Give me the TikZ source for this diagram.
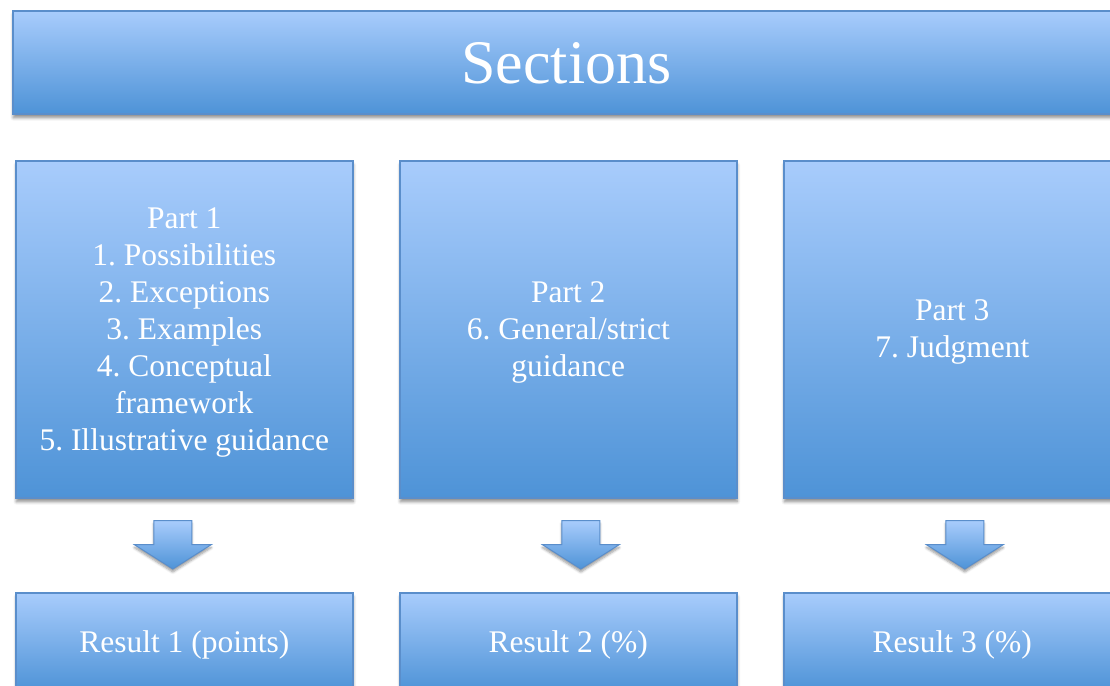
\documentclass[tikz,border=0pt]{standalone}
\usepackage{fontspec}
\setmainfont{Liberation Serif}
\usetikzlibrary{shadows.blur,calc}
\definecolor{boxtop}{HTML}{A8CCFC}
\definecolor{boxbot}{HTML}{4E93D7}
\definecolor{boxedge}{HTML}{5A8ECB}
\frenchspacing
\begin{document}
\begin{tikzpicture}[x=1pt,y=-1pt,
  panel/.style={rectangle, draw=boxedge, line width=1.6pt,
    top color=boxtop, bottom color=boxbot, inner sep=0pt, anchor=north west,
    blur shadow={shadow xshift=0.5pt, shadow yshift=-4pt,
      shadow blur radius=3pt, shadow blur steps=6, shadow opacity=45}},
  partbox/.style={panel, minimum width=337pt, minimum height=337pt},
  resultbox/.style={panel, minimum width=337pt, minimum height=98pt},
  boxtext/.style={text=white, align=center, inner sep=0pt,
    font=\fontsize{31.5}{37}\selectfont},
  blockarrow/.style={draw=boxedge, line width=1pt, line join=miter,
    top color=boxtop, bottom color=boxbot,
    blur shadow={shadow xshift=0pt, shadow yshift=-3pt,
      shadow blur radius=2.5pt, shadow blur steps=5, shadow opacity=40}}
]
\useasboundingbox (0,0) rectangle (1110,685);
\clip (0,0) rectangle (1110,685);

% header
\node[panel, minimum width=1107pt, minimum height=103pt] (head) at (12,10) {};
\node[boxtext, font=\fontsize{62}{70}\selectfont] (headtext)
  at ([yshift=-1pt]head.center) {Sections};

% the three parts
\node[partbox] (p1) at (15,160) {};
\node[partbox] (p2) at (399,160) {};
\node[partbox] (p3) at (783,160) {};
\node[boxtext] (p1text) at ([yshift=-3pt]p1.center)
  {Part 1\\1. Possibilities\\2. Exceptions\\3. Examples\\4. Conceptual\\framework\\5. Illustrative guidance};
\node[boxtext] (p2text) at ([yshift=-3pt]p2.center) {Part 2\\6. General/strict\\guidance};
\node[boxtext] (p3text) at ([yshift=-3pt]p3.center) {Part 3\\7. Judgment};

% results
\node[resultbox] (r1) at (15,592) {};
\node[resultbox] (r2) at (399,592) {};
\node[resultbox] (r3) at (783,592) {};
\node[boxtext] (r1text) at ([yshift=-3pt]r1.center) {Result 1 (points)};
\node[boxtext] (r2text) at ([yshift=-3pt]r2.center) {Result 2 (\%)};
\node[boxtext] (r3text) at ([yshift=-3pt]r3.center) {Result 3 (\%)};

% block arrows from each part down to its result
\foreach \i/\dx in {1/-11.5, 2/12.5, 3/12.5} {
  \path[blockarrow]
    ($(p\i.south)+(\dx-19,22)$) -- ($(p\i.south)+(\dx+19,22)$)
    -- ($(p\i.south)+(\dx+19,46)$) -- ($(p\i.south)+(\dx+38.5,46)$)
    -- ($(r\i.north)+(\dx,-23)$)
    -- ($(p\i.south)+(\dx-38.5,46)$) -- ($(p\i.south)+(\dx-19,46)$) -- cycle;
}
\end{tikzpicture}
\end{document}
